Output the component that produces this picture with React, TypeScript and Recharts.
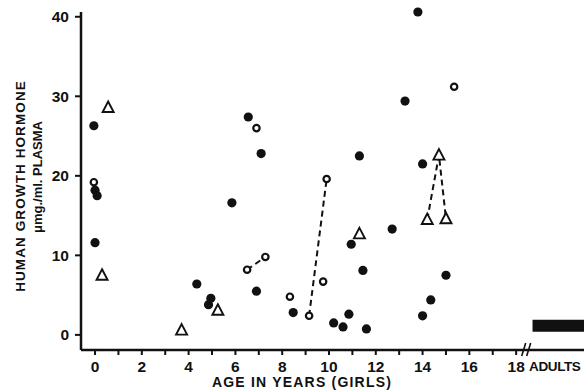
import { ScatterChart, Scatter, XAxis, YAxis, ReferenceArea, ReferenceDot } from "recharts"

const INK = "#111"
const FONT = "'Liberation Sans', Arial, sans-serif"

// age in years, growth hormone in μmg./ml. plasma
const filledDots = [
  { age: -0.05, ghr: 26.3 },
  { age: 0.0, ghr: 18.2 },
  { age: 0.09, ghr: 17.5 },
  { age: 0.0, ghr: 11.6 },
  { age: 4.35, ghr: 6.4 },
  { age: 4.85, ghr: 3.8 },
  { age: 4.95, ghr: 4.6 },
  { age: 5.85, ghr: 16.6 },
  { age: 6.55, ghr: 27.4 },
  { age: 6.9, ghr: 5.5 },
  { age: 7.1, ghr: 22.8 },
  { age: 8.47, ghr: 2.8 },
  { age: 10.2, ghr: 1.5 },
  { age: 10.6, ghr: 1.0 },
  { age: 10.85, ghr: 2.6 },
  { age: 10.95, ghr: 11.4 },
  { age: 11.3, ghr: 22.5 },
  { age: 11.45, ghr: 8.1 },
  { age: 11.6, ghr: 0.75 },
  { age: 12.7, ghr: 13.3 },
  { age: 13.25, ghr: 29.4 },
  { age: 13.8, ghr: 40.6 },
  { age: 14.0, ghr: 21.5 },
  { age: 14.0, ghr: 2.4 },
  { age: 14.35, ghr: 4.4 },
  { age: 15.0, ghr: 7.5 },
]

const openDots = [
  { age: -0.05, ghr: 19.2 },
  { age: 6.9, ghr: 26.0 },
  { age: 8.33, ghr: 4.8 },
  { age: 9.75, ghr: 6.7 },
  { age: 15.35, ghr: 31.2 },
]

const triangles = [
  { age: 0.56, ghr: 28.6 },
  { age: 0.3, ghr: 7.5 },
  { age: 3.7, ghr: 0.6 },
  { age: 5.25, ghr: 3.1 },
  { age: 11.3, ghr: 12.7 },
]

// repeated samples of the same child, joined by dashes
const openLinkEarly = [
  { age: 6.5, ghr: 8.2 },
  { age: 7.28, ghr: 9.8 },
]
const openLinkLate = [
  { age: 9.15, ghr: 2.4 },
  { age: 9.9, ghr: 19.6 },
]
const triangleLink = [
  { age: 14.2, ghr: 14.5 },
  { age: 14.7, ghr: 22.6 },
  { age: 15.0, ghr: 14.6 },
]

const ageTicks = [0, 1, 2, 3, 4, 5, 6, 7, 8, 9, 10, 11, 12, 13, 14, 15, 16, 17, 18]
const adultsTick = 19.65
const ghrTicks = [0, 10, 20, 30, 40]
const adultRange = { from: 18.7, to: 20.9, low: 0.4, high: 1.9 }
const axisBreak = 18.45

const TICK_SIZE = 5
const TICK_MARGIN = 6

const dash = { stroke: INK, strokeWidth: 2, strokeDasharray: "6 4" }

function Dot(p: any) {
  return <circle cx={p.cx} cy={p.cy} r={4.6} fill={INK} />
}

function Ring(p: any) {
  return <circle cx={p.cx} cy={p.cy} r={3.2} fill="#fff" stroke={INK} strokeWidth={2.2} />
}

function Tri(p: any) {
  const { cx, cy } = p
  return (
    <path
      d={`M${cx},${cy - 6} L${cx + 5.5},${cy + 4.5} L${cx - 5.5},${cy + 4.5} Z`}
      fill="#fff"
      stroke={INK}
      strokeWidth={1.9}
    />
  )
}

function AgeTick(p: any) {
  const { x, y, payload } = p
  const v = payload.value
  const text = { fill: INK, fontFamily: FONT, fontWeight: 700, textAnchor: "middle" as const }
  if (v === adultsTick) {
    return (
      <text x={x} y={y} dy="0.71em" fontSize={13.5} letterSpacing={-0.4} {...text}>
        ADULTS
      </text>
    )
  }
  return (
    <g>
      <line x1={x} x2={x} y1={y - TICK_MARGIN - TICK_SIZE} y2={y - TICK_MARGIN} stroke={INK} strokeWidth={2} />
      {v % 2 === 0 && (
        <text x={x} y={y} dy="0.71em" fontSize={15.5} {...text}>
          {v}
        </text>
      )}
    </g>
  )
}

function BreakMark(p: any) {
  const { cx, cy } = p
  return (
    <g stroke={INK} strokeWidth={1.6}>
      <line x1={cx - 5} y1={cy + 6} x2={cx - 1} y2={cy - 7} />
      <line x1={cx} y1={cy + 6} x2={cx + 4} y2={cy - 7} />
    </g>
  )
}

export default function App() {
  return (
    <div style={{ position: "absolute", left: 0, top: 0, width: 584, height: 390, background: "#fff" }}>
      <ScatterChart width={584} height={390} margin={{ top: 12, right: 0, bottom: 0, left: 0 }}>
        <XAxis
          dataKey="age"
          type="number"
          domain={[-0.6, 20.9]}
          ticks={[...ageTicks, adultsTick]}
          interval={0}
          tick={(props: any) => <AgeTick {...props} />}
          tickLine={false}
          tickSize={TICK_SIZE}
          tickMargin={TICK_MARGIN}
          axisLine={{ stroke: INK, strokeWidth: 2.5 }}
          height={40}
          label={{
            content: () => (
              <text x={302} y={387} textAnchor="middle" fill={INK} fontFamily={FONT} fontWeight={700} fontSize={14} letterSpacing={1.2}>
                AGE IN YEARS (GIRLS)
              </text>
            ),
          }}
        />
        <YAxis
          dataKey="ghr"
          type="number"
          domain={[-1.9, 40.6]}
          ticks={ghrTicks}
          width={81}
          tickSize={6}
          tickMargin={6}
          tick={{ fill: INK, fontSize: 15.5, fontWeight: 700, fontFamily: FONT }}
          tickLine={{ stroke: INK, strokeWidth: 2 }}
          axisLine={{ stroke: INK, strokeWidth: 2.5 }}
          label={{
            content: () => (
              <g fill={INK} fontFamily={FONT} fontWeight={700}>
                <text transform="translate(25,186) rotate(-90)" textAnchor="middle" fontSize={13.5} letterSpacing={1.1}>
                  HUMAN GROWTH HORMONE
                </text>
                <text transform="translate(42,177) rotate(-90)" textAnchor="middle" fontSize={13}>
                  μmg./ml. PLASMA
                </text>
              </g>
            ),
          }}
        />
        <ReferenceArea
          x1={adultRange.from}
          x2={adultRange.to}
          y1={adultRange.low}
          y2={adultRange.high}
          fill={INK}
          fillOpacity={1}
          stroke="none"
        />
        <ReferenceDot x={axisBreak} y={-1.9} ifOverflow="visible" shape={(p: any) => <BreakMark {...p} />} />
        <Scatter data={openLinkEarly} line={dash} shape={Ring} isAnimationActive={false} />
        <Scatter data={openLinkLate} line={dash} shape={Ring} isAnimationActive={false} />
        <Scatter data={triangleLink} line={dash} shape={Tri} isAnimationActive={false} />
        <Scatter data={filledDots} shape={Dot} isAnimationActive={false} />
        <Scatter data={openDots} shape={Ring} isAnimationActive={false} />
        <Scatter data={triangles} shape={Tri} isAnimationActive={false} />
      </ScatterChart>
    </div>
  )
}
